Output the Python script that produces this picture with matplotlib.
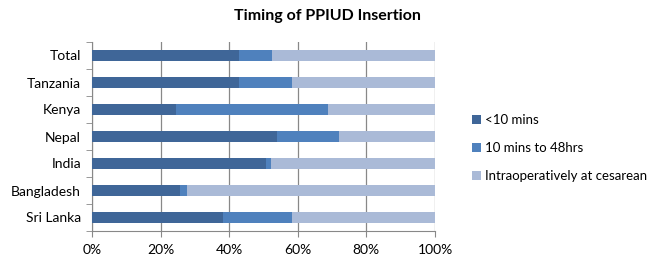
import matplotlib.pyplot as plt
import numpy as np

plt.rcParams['font.family'] = ['Lato', 'DejaVu Sans']

countries = ['Total', 'Tanzania', 'Kenya', 'Nepal', 'India', 'Bangladesh', 'Sri Lanka']
under_10 = [42.8, 43.0, 24.6, 54.0, 50.8, 25.6, 38.1]
to_48hrs = [9.8, 15.4, 44.1, 18.1, 1.4, 2.0, 20.3]
cesarean = [100 - a - b for a, b in zip(under_10, to_48hrs)]

labels = ['<10 mins', '10 mins to 48hrs', 'Intraoperatively at cesarean']
colors = ['#3F6698', '#4F81BD', '#AABAD7']

fig = plt.figure(figsize=(6.54, 2.61), dpi=100)
ax = fig.add_axes([92/654, 1 - 231/261, 343/654, 189/261])

y = np.arange(len(countries))[::-1]
left = np.zeros(len(countries))
for vals, lab, col in zip([under_10, to_48hrs, cesarean], labels, colors):
    ax.barh(y, vals, left=left, height=0.4, color=col, label=lab, zorder=3)
    left += np.array(vals)

ax.set_xlim(0, 100)
ax.set_ylim(-0.5, len(countries) - 0.5)
ax.set_yticks(y)
ax.set_yticklabels(countries, fontsize=10)
ax.set_xticks(range(0, 101, 20))
ax.set_xticklabels([f'{v}%' for v in range(0, 101, 20)], fontsize=10)
ax.set_yticks(np.arange(-0.5, len(countries), 1), minor=True)
ax.tick_params(axis='y', which='major', length=0, pad=8)
ax.tick_params(axis='y', which='minor', length=4, color='#888888')
ax.tick_params(axis='x', length=4, color='#888888', pad=5)
ax.grid(axis='x', color='#888888', linewidth=0.9, zorder=0)
for s in ['top', 'right']:
    ax.spines[s].set_visible(False)
for s in ['left', 'bottom']:
    ax.spines[s].set_color('#888888')

fig.suptitle('Timing of PPIUD Insertion', x=0.5, y=0.965, fontsize=11.5, fontweight='bold')
fig.legend(loc='center left', bbox_to_anchor=(472/654, 1 - 148/261), frameon=False,
           fontsize=9.5, handlelength=0.7, handleheight=0.7, handletextpad=0.3,
           labelspacing=1.2, borderaxespad=0, borderpad=0)

fig.savefig('out.png', dpi=100)
